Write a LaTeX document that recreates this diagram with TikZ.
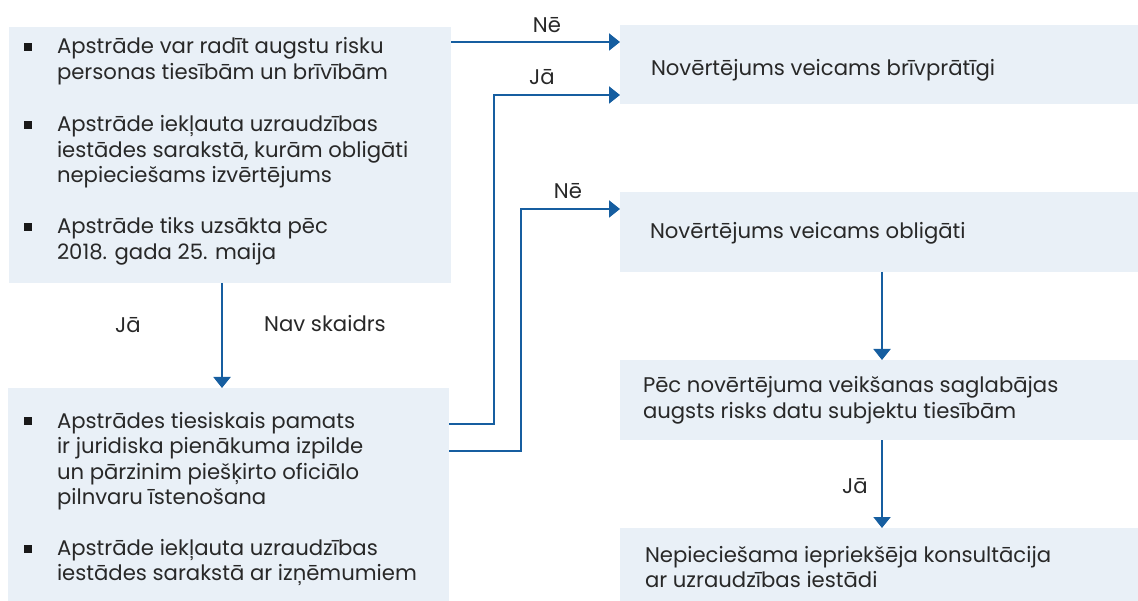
\documentclass[tikz,border=0pt]{standalone}
\usepackage{fontspec}
\setmainfont{Poppins}
\usetikzlibrary{arrows.meta,calc}
\definecolor{boxc}{RGB}{233,240,247}
\definecolor{arrc}{RGB}{22,94,160}
\definecolor{txtc}{RGB}{40,40,40}
\begin{document}
\begin{tikzpicture}[x=1pt,y=-1pt,
  box/.style={fill=boxc,draw=none,inner sep=0pt,outer sep=0pt,rectangle},
  txt/.style={anchor=base west,inner sep=0pt,outer sep=0pt,text=txtc,font=\fontsize{21.2}{25.5}\selectfont,align=left},
  lbl/.style={anchor=base,inner sep=0pt,text=txtc,font=\fontsize{21.2}{25.5}\selectfont},
  bul/.style={fill=black!90,inner sep=0pt,minimum size=8pt,rectangle},
  arr/.style={draw=arrc,line width=2pt,-{Triangle[width=17pt,length=11pt]},arrc}]
\useasboundingbox (0,0) rectangle (1138,601);
% boxes
\node[box,minimum width=442pt,minimum height=256pt] (A) at (230,155) {};
\node[box,minimum width=441pt,minimum height=213pt] (B) at (228.5,494.5) {};
\node[box,minimum width=518pt,minimum height=79pt] (C) at (879,64.5) {};
\node[box,minimum width=518pt,minimum height=80pt] (D) at (879,232) {};
\node[box,minimum width=518pt,minimum height=80pt] (E) at (879,400) {};
\node[box,minimum width=518pt,minimum height=73pt] (F) at (879,564.5) {};
% bullets
\node[bul] (b1) at (27.5,47.5) {};
\node[bul] (b2) at (27.5,125.5) {};
\node[bul] (b3) at (27.5,227.5) {};
\node[bul] (b4) at (27.5,421.5) {};
\node[bul] (b5) at (27.5,548.5) {};
% texts (anchored at the baseline of the last line)
\node[txt] (t1) at (57,79.5) {Apstrāde var radīt augstu risku\\personas tiesībām un brīvībām};
\node[txt] (t2) at (57,183) {Apstrāde iekļauta uzraudzības\\iestādes sarakstā, kurām obligāti\\nepieciešams izvērtējums};
\node[txt] (t3) at (57,259.5) {Apstrāde tiks uzsākta pēc\\2018. gada 25. maija};
\node[txt] (t4) at (57,504.5) {Apstrādes tiesiskais pamats\\ir juridiska pienākuma izpilde\\un pārzinim piešķirto oficiālo\\pilnvaru īstenošana};
\node[txt] (t5) at (57,580.5) {Apstrāde iekļauta uzraudzības\\iestādes sarakstā ar izņēmumiem};
\node[txt] (tc) at (651,76) {Novērtējums veicams brīvprātīgi};
\node[txt] (td) at (650,239) {Novērtējums veicams obligāti};
\node[txt] (te) at (643,418.5) {Pēc novērtējuma veikšanas saglabājas\\augsts risks datu subjektu tiesībām};
\node[txt] (tf) at (645,587.5) {Nepieciešama iepriekšēja konsultācija\\ar uzraudzības iestādi};
% labels
\node[lbl] (l1) at (547,33) {Nē};
\node[lbl] (l2) at (542,85) {Jā};
\node[lbl] (l3) at (568,199) {Nē};
\node[lbl] (l4) at (128,333) {Jā};
\node[lbl] (l5) at (325,332) {Nav skaidrs};
\node[lbl] (l6) at (855,493) {Jā};
% connectors
\draw[arr] (A.east |- 0,42) -- (C.west |- 0,42);
\draw[arr] (B.east |- 0,424) -| (494,95) -- (C.west |- 0,95);
\draw[arr] (B.east |- 0,451) -| (521,209) -- (D.west |- 0,209);
\draw[arr] (A.south -| 222,0) -- (B.north -| 222,0);
\draw[arr] (D.south -| 882,0) -- (E.north -| 882,0);
\draw[arr] (E.south -| 882,0) -- (F.north -| 882,0);
\end{tikzpicture}
\end{document}
